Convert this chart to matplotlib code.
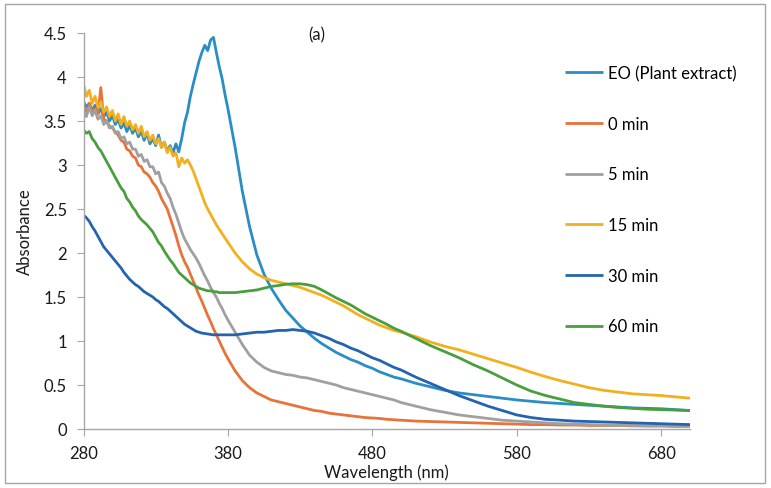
import numpy as np
import matplotlib
matplotlib.use("Agg")
import matplotlib.pyplot as plt
from matplotlib.patches import Rectangle
from matplotlib.ticker import FuncFormatter

plt.rcParams['font.family'] = ['Lato', 'DejaVu Sans']

# wavelength grid (nm)
wl = (list(range(280, 381, 2)) + list(range(385, 501, 5)) + list(range(510, 701, 10)))

eo = [3.72, 3.66, 3.70, 3.62, 3.68, 3.58, 3.64, 3.55, 3.60, 3.50, 3.56, 3.46, 3.52,
      3.42, 3.48, 3.38, 3.45, 3.36, 3.42, 3.32, 3.38, 3.28, 3.36, 3.24, 3.30, 3.22,
      3.34, 3.20, 3.26, 3.16, 3.22, 3.14, 3.24, 3.15, 3.30, 3.48, 3.60, 3.78, 3.92,
      4.05, 4.18, 4.28, 4.36, 4.30, 4.42, 4.45, 4.28, 4.12, 3.98, 3.80, 3.64,
      3.20, 2.70, 2.30, 1.98, 1.76, 1.60, 1.47, 1.35, 1.26, 1.17, 1.10, 1.03, 0.97,
      0.92, 0.87, 0.83, 0.79, 0.76, 0.72, 0.69, 0.65, 0.62, 0.59, 0.57,
      0.52, 0.48, 0.44, 0.41, 0.39, 0.37, 0.35, 0.33, 0.315, 0.30, 0.29, 0.28, 0.27,
      0.26, 0.25, 0.24, 0.235, 0.23, 0.22, 0.21]

m0 = [3.68, 3.58, 3.70, 3.60, 3.64, 3.58, 3.88, 3.52, 3.50, 3.44, 3.42, 3.38, 3.34,
      3.28, 3.26, 3.18, 3.16, 3.10, 3.08, 3.00, 2.98, 2.92, 2.90, 2.86, 2.80, 2.76,
      2.70, 2.62, 2.56, 2.50, 2.40, 2.30, 2.20, 2.08, 1.98, 1.90, 1.84, 1.76, 1.68,
      1.60, 1.52, 1.45, 1.37, 1.29, 1.22, 1.14, 1.07, 1.00, 0.93, 0.86, 0.80,
      0.66, 0.55, 0.47, 0.41, 0.37, 0.33, 0.31, 0.29, 0.27, 0.25, 0.23, 0.21, 0.20,
      0.18, 0.17, 0.16, 0.15, 0.14, 0.13, 0.125, 0.12, 0.11, 0.105, 0.10,
      0.09, 0.085, 0.08, 0.075, 0.07, 0.065, 0.06, 0.055, 0.05, 0.05, 0.045, 0.045,
      0.04, 0.04, 0.04, 0.035, 0.035, 0.035, 0.03, 0.03]

m5 = [3.62, 3.55, 3.66, 3.56, 3.62, 3.52, 3.56, 3.46, 3.50, 3.42, 3.44, 3.36, 3.38,
      3.30, 3.32, 3.24, 3.26, 3.18, 3.18, 3.10, 3.12, 3.04, 3.06, 2.98, 2.98, 2.90,
      2.92, 2.80, 2.76, 2.68, 2.62, 2.52, 2.44, 2.34, 2.24, 2.16, 2.10, 2.04, 1.99,
      1.94, 1.88, 1.81, 1.74, 1.68, 1.61, 1.55, 1.50, 1.43, 1.37, 1.30, 1.24,
      1.10, 0.96, 0.84, 0.76, 0.70, 0.66, 0.64, 0.62, 0.61, 0.59, 0.58, 0.56, 0.54,
      0.52, 0.50, 0.47, 0.45, 0.43, 0.41, 0.39, 0.37, 0.35, 0.33, 0.30,
      0.26, 0.22, 0.19, 0.16, 0.14, 0.12, 0.10, 0.09, 0.08, 0.07, 0.06, 0.055,
      0.05, 0.045, 0.04, 0.04, 0.035, 0.035, 0.03, 0.03]

m15 = [3.92, 3.78, 3.85, 3.70, 3.78, 3.65, 3.72, 3.60, 3.66, 3.55, 3.62, 3.50, 3.58,
       3.46, 3.55, 3.44, 3.50, 3.40, 3.46, 3.36, 3.44, 3.32, 3.38, 3.28, 3.34, 3.24,
       3.30, 3.20, 3.26, 3.14, 3.20, 3.10, 3.14, 2.98, 3.08, 3.02, 3.06, 3.00, 2.93,
       2.84, 2.75, 2.66, 2.57, 2.50, 2.44, 2.38, 2.32, 2.27, 2.22, 2.17, 2.12,
       2.00, 1.90, 1.82, 1.76, 1.72, 1.69, 1.67, 1.65, 1.63, 1.61, 1.58, 1.55, 1.52,
       1.48, 1.44, 1.40, 1.35, 1.30, 1.26, 1.22, 1.18, 1.15, 1.12, 1.10,
       1.05, 0.99, 0.94, 0.90, 0.85, 0.80, 0.75, 0.70, 0.645, 0.595, 0.55, 0.51,
       0.47, 0.44, 0.42, 0.40, 0.39, 0.38, 0.365, 0.35]

m30 = [2.43, 2.40, 2.36, 2.30, 2.25, 2.19, 2.13, 2.07, 2.03, 1.99, 1.95, 1.91, 1.87,
       1.83, 1.78, 1.74, 1.70, 1.67, 1.64, 1.62, 1.59, 1.56, 1.54, 1.52, 1.50, 1.47,
       1.45, 1.42, 1.39, 1.37, 1.34, 1.31, 1.28, 1.25, 1.22, 1.19, 1.17, 1.15, 1.13,
       1.11, 1.10, 1.09, 1.085, 1.08, 1.075, 1.07, 1.07, 1.07, 1.07, 1.07, 1.07,
       1.07, 1.08, 1.09, 1.10, 1.10, 1.11, 1.12, 1.12, 1.13, 1.12, 1.11, 1.09, 1.06,
       1.03, 0.99, 0.96, 0.92, 0.89, 0.85, 0.81, 0.78, 0.74, 0.70, 0.67,
       0.59, 0.52, 0.45, 0.38, 0.32, 0.26, 0.21, 0.16, 0.13, 0.11, 0.10, 0.09,
       0.085, 0.08, 0.075, 0.07, 0.065, 0.06, 0.055, 0.05]

m60 = [3.40, 3.36, 3.38, 3.30, 3.26, 3.20, 3.16, 3.10, 3.04, 2.98, 2.92, 2.86, 2.80,
       2.74, 2.70, 2.62, 2.58, 2.52, 2.48, 2.42, 2.38, 2.35, 2.32, 2.28, 2.24, 2.18,
       2.12, 2.08, 2.02, 1.97, 1.92, 1.88, 1.83, 1.78, 1.75, 1.72, 1.69, 1.66, 1.64,
       1.62, 1.60, 1.59, 1.58, 1.57, 1.57, 1.56, 1.56, 1.55, 1.55, 1.55, 1.55,
       1.55, 1.56, 1.57, 1.58, 1.60, 1.62, 1.63, 1.645, 1.65, 1.65, 1.64, 1.62, 1.58,
       1.535, 1.49, 1.45, 1.41, 1.36, 1.31, 1.27, 1.23, 1.19, 1.145, 1.11,
       1.03, 0.95, 0.88, 0.81, 0.73, 0.66, 0.58, 0.50, 0.43, 0.38, 0.34, 0.30,
       0.28, 0.26, 0.245, 0.235, 0.225, 0.22, 0.215, 0.21]

labels = ["EO (Plant extract)", "0 min", "5 min", "15 min", "30 min", "60 min"]
colors = ["#2A8DC5", "#E8733A", "#A0A0A0", "#F2B01E", "#2563AE", "#4A9E3E"]
series = [eo, m0, m5, m15, m30, m60]

W, H = 771, 489
FS = 12
fig = plt.figure(figsize=(W / 100, H / 100), dpi=100)
ax = fig.add_axes([83.5 / W, 1 - 430 / H, (690 - 83.5) / W, (430 - 34) / H])

for y, c, lab in zip(series, colors, labels):
    ax.plot(wl, y, color=c, lw=2, label=lab, solid_capstyle='butt')

ax.set_xlim(280, 700)
ax.set_ylim(0, 4.5)
ax.set_xticks([280, 380, 480, 580, 680])
ax.set_yticks(np.arange(0, 4.51, 0.5))
ax.yaxis.set_major_formatter(FuncFormatter(lambda v, p: "%g" % v))

for s in ["top", "right"]:
    ax.spines[s].set_visible(False)
for s in ["left", "bottom"]:
    ax.spines[s].set_color("#A6A6A6")
    ax.spines[s].set_linewidth(1)
ax.tick_params(axis="both", direction="out", length=5, color="#A6A6A6",
               labelsize=FS, labelcolor="#1a1a1a")
ax.tick_params(axis="x", pad=6.5)
ax.tick_params(axis="y", pad=7)

fig.text(25 / W, 1 - 232 / H, "Absorbance", rotation=90, ha="center", va="center",
         fontsize=FS, color="#1a1a1a")
fig.text(386 / W, 1 - 473 / H, "Wavelength (nm)", ha="center", va="center",
         fontsize=FS, color="#1a1a1a")
fig.text(317 / W, 1 - 35 / H, "(a)", ha="center", va="center",
         fontsize=FS, color="#1a1a1a")

fig.legend(loc="upper left", bbox_to_anchor=(565 / W, 1 - 66 / H), frameon=False,
           fontsize=FS, handlelength=2.3, handletextpad=0.3, labelspacing=2.08,
           borderpad=0, borderaxespad=0)

fig.patches.append(Rectangle((5 / W, 5 / H), 760 / W, 479 / H, transform=fig.transFigure,
                             fill=False, edgecolor="#A6A6A6", lw=1))

fig.savefig("out.png", dpi=100)
